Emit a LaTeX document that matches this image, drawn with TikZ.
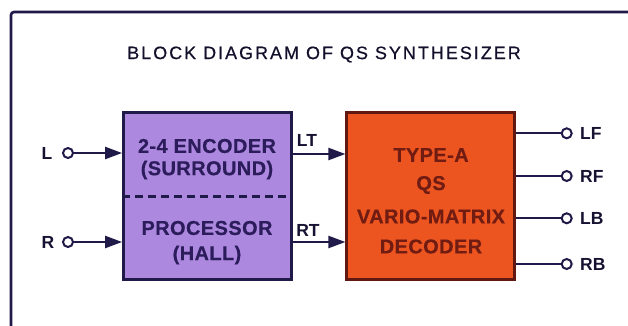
\documentclass[tikz,border=0pt]{standalone}
\usepackage{fontspec}
\setmainfont{Liberation Sans}
\newfontfamily\titlefont[LetterSpace=11,FakeBold=0.6]{Liberation Sans}
\newfontfamily\boxfont[LetterSpace=2,FakeBold=0.4]{Liberation Sans}
\usetikzlibrary{arrows.meta}
\definecolor{purplefill}{RGB}{172,136,222}
\definecolor{orangefill}{RGB}{236,84,32}
\definecolor{navy}{RGB}{32,26,72}
\definecolor{purpletext}{RGB}{44,28,92}
\definecolor{orangetext}{RGB}{112,28,18}
\definecolor{orangeborder}{RGB}{96,24,16}
\tikzset{
  blockbox/.style={draw, line width=2.8pt, minimum width=168pt, minimum height=167pt, inner sep=0pt},
  boxtext/.style={font=\boxfont\fontsize{20}{22}\selectfont\bfseries, inner sep=0pt},
  lbl/.style={font=\fontsize{17.5}{19}\selectfont\bfseries, text=navy!70!black, inner sep=0pt},
  term/.style={circle, draw=navy, fill=white, line width=2pt, minimum size=10pt, inner sep=0pt},
  arr/.style={line width=2.3pt, draw=navy, -{Triangle[length=17pt,width=12pt]}},
  wire/.style={line width=2.3pt, draw=navy}
}
\begin{document}
\begin{tikzpicture}[x=1pt,y=-1pt]
\useasboundingbox (0,0) rectangle (628,325);
\clip (0,0) rectangle (628,325);
% frame
\draw[line width=2.6pt, navy, rounded corners=3pt] (11,340) -- (11,12) -- (640,12);
% title
\node[font=\titlefont\fontsize{18}{20}\selectfont, text=navy!60!black, inner sep=0pt] (title) at (324,54.5) {BLOCK DIAGRAM OF QS SYNTHESIZER};
% blocks
\node[blockbox, fill=purplefill, draw=navy] (enc) at (207.5,196.3) {};
\node[blockbox, fill=orangefill, draw=orangeborder] (dec) at (430.8,196.3) {};
\draw[line width=2.8pt, navy, dash pattern=on 8pt off 5pt] (enc.west) -- (enc.east);
% encoder text
\node[boxtext, text=purpletext] (t1) at (207,146) {2-4 ENCODER};
\node[boxtext, text=purpletext] (t2) at (207,170) {(SURROUND)};
\node[boxtext, text=purpletext] (t3) at (207,228) {PROCESSOR};
\node[boxtext, text=purpletext] (t4) at (207,255) {(HALL)};
% decoder text
\node[boxtext, text=orangetext] (d1) at (431,155) {TYPE-A};
\node[boxtext, text=orangetext] (d2) at (431,185) {QS};
\node[boxtext, text=orangetext] (d3) at (431,216.5) {VARIO-MATRIX};
\node[boxtext, text=orangetext] (d4) at (431,246.5) {DECODER};
% inputs
\node[term] (Lc) at (68,153) {};
\node[term] (Rc) at (68,242) {};
\node[lbl] (Ll) at (47,153) {L};
\node[lbl] (Rl) at (48,242) {R};
\draw[arr] (Lc) -- (Lc -| enc.west);
\draw[arr] (Rc) -- (Rc -| enc.west);
% middle arrows
\coordinate (ltc) at (0,154);
\draw[arr] (enc.east |- ltc) -- (dec.west |- ltc);
\draw[arr] (enc.east |- Rc) -- (dec.west |- Rc);
\node[lbl] (LT) at (307,140) {LT};
\node[lbl] (RT) at (308,230) {RT};
% outputs
\node[term] (oLF) at (566.7,133.3) {};
\node[term] (oRF) at (566.7,176) {};
\node[term] (oLB) at (566.7,218.3) {};
\node[term] (oRB) at (566.7,264) {};
\foreach \o in {oLF,oRF,oLB,oRB}{\draw[wire] (dec.east |- \o) -- (\o);}
\node[lbl, anchor=west] (LF) at (580,133.3) {LF};
\node[lbl, anchor=west] (RF) at (580,176) {RF};
\node[lbl, anchor=west] (LB) at (580,218.3) {LB};
\node[lbl, anchor=west] (RB) at (580,264) {RB};
\end{tikzpicture}
\end{document}
